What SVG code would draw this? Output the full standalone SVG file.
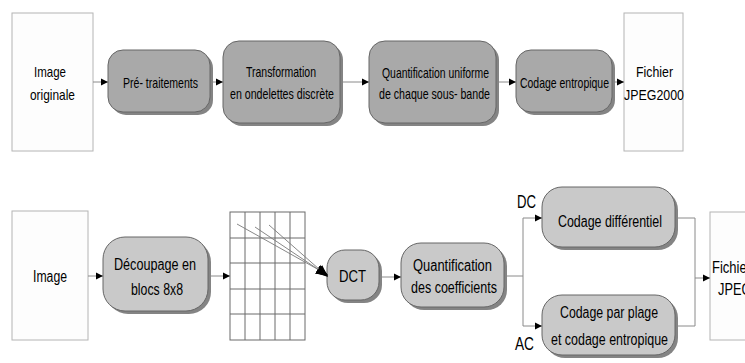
<svg xmlns="http://www.w3.org/2000/svg" width="745" height="363" viewBox="0 0 745 363">
<style>
  .bg{fill:#ffffff}
  .doc{fill:#fdfdfd;stroke:#b4b4b4;stroke-width:1}
  .shadow{fill:#6f6f6f;opacity:0.85}
  .boxA{fill:#a9a9a9;stroke:#666666;stroke-width:1}
  .boxB{fill:#c9c9c9;stroke:#666666;stroke-width:1}
  .grid{fill:#ffffff;stroke:#6a6a6a;stroke-width:1}
  .conn{fill:none;stroke:#8a8a8a;stroke-width:1}
  .conv{fill:none;stroke:#7a7a7a;stroke-width:0.9}
  text{font-family:"Liberation Sans",Arial,sans-serif;fill:#000}
  .t14{font-size:15px}
  .t15{font-size:16px}
  .t18{font-size:19px}
</style>
<defs>
  <marker id="arr" markerUnits="userSpaceOnUse" markerWidth="8" markerHeight="8" refX="7" refY="4" orient="auto">
    <path d="M0,0.5 L7,4 L0,7.5 Z" fill="#000"/>
  </marker>
  <marker id="arr2" markerUnits="userSpaceOnUse" markerWidth="13" markerHeight="11" refX="12" refY="5.5" orient="auto">
    <path d="M0,0.5 L12,5.5 L0,10.5 Z" fill="#000"/>
  </marker>
</defs>
<rect class="bg" x="0" y="0" width="745" height="363"/>

<g id="image-originale">
  <rect class="doc" x="12" y="13" width="81" height="138"/>
  <text class="t14" x="34" y="77" textLength="32" lengthAdjust="spacingAndGlyphs">Image</text>
  <text class="t14" x="30" y="100" textLength="45" lengthAdjust="spacingAndGlyphs">originale</text>
</g>
<g id="pretraitements">
  <rect class="shadow" x="111" y="53" width="102" height="62" rx="15"/>
  <rect class="boxA" x="108" y="50" width="102" height="62" rx="15"/>
  <text class="t14" x="123" y="88" textLength="75" lengthAdjust="spacingAndGlyphs">Pré- traitements</text>
</g>
<g id="transformation">
  <rect class="shadow" x="226" y="44" width="117" height="82" rx="16"/>
  <rect class="boxA" x="223" y="41" width="117" height="82" rx="16"/>
  <text class="t14" x="246" y="77" textLength="70" lengthAdjust="spacingAndGlyphs">Transformation</text>
  <text class="t14" x="230" y="99" textLength="104" lengthAdjust="spacingAndGlyphs">en ondelettes discrète</text>
</g>
<g id="quantification-uniforme">
  <rect class="shadow" x="372" y="44" width="127" height="82" rx="16"/>
  <rect class="boxA" x="369" y="41" width="127" height="82" rx="16"/>
  <text class="t14" x="382" y="78" textLength="107" lengthAdjust="spacingAndGlyphs">Quantification uniforme</text>
  <text class="t14" x="379" y="99" textLength="111" lengthAdjust="spacingAndGlyphs">de chaque sous- bande</text>
</g>
<g id="codage-entropique">
  <rect class="shadow" x="519" y="53" width="96" height="62" rx="15"/>
  <rect class="boxA" x="516" y="50" width="96" height="62" rx="15"/>
  <text class="t14" x="520" y="88" textLength="89" lengthAdjust="spacingAndGlyphs">Codage entropique</text>
</g>
<g id="fichier-jpeg2000">
  <rect class="doc" x="624" y="13" width="59" height="138"/>
  <text class="t14" x="636" y="77" textLength="37" lengthAdjust="spacingAndGlyphs">Fichier</text>
  <text class="t14" x="624" y="100" textLength="60" lengthAdjust="spacingAndGlyphs">JPEG2000</text>
</g>

<g id="image">
  <rect class="doc" x="12" y="211" width="76" height="129"/>
  <text class="t15" x="33" y="282" textLength="34" lengthAdjust="spacingAndGlyphs">Image</text>
</g>
<g id="decoupage">
  <rect class="shadow" x="106" y="240" width="105" height="74" rx="22"/>
  <rect class="boxB" x="103" y="237" width="105" height="74" rx="22"/>
  <text class="t15" x="114" y="270" textLength="82" lengthAdjust="spacingAndGlyphs">Découpage en</text>
  <text class="t15" x="131" y="295" textLength="52" lengthAdjust="spacingAndGlyphs">blocs 8x8</text>
</g>
<g id="grille">
  <rect class="grid" x="230" y="212" width="75" height="128"/>
  <path class="grid" fill="none" d="M245,212V340M260,212V340M275,212V340M290,212V340M230,238H305M230,263H305M230,289H305M230,314H305"/>
</g>
<g id="dct">
  <rect class="shadow" x="330" y="253" width="52" height="50" rx="18"/>
  <rect class="boxB" x="327" y="250" width="52" height="50" rx="18"/>
  <text class="t15" x="339" y="282" textLength="27" lengthAdjust="spacingAndGlyphs">DCT</text>
</g>
<g id="quantification-coefficients">
  <rect class="shadow" x="404" y="246" width="103" height="64" rx="20"/>
  <rect class="boxB" x="401" y="243" width="103" height="64" rx="20"/>
  <text class="t15" x="413" y="271" textLength="79" lengthAdjust="spacingAndGlyphs">Quantification</text>
  <text class="t15" x="411" y="293" textLength="86" lengthAdjust="spacingAndGlyphs">des coefficients</text>
</g>
<g id="codage-differentiel">
  <rect class="shadow" x="545" y="190" width="133" height="60" rx="20"/>
  <rect class="boxB" x="542" y="187" width="133" height="60" rx="20"/>
  <text class="t15" x="558" y="227" textLength="104" lengthAdjust="spacingAndGlyphs">Codage différentiel</text>
</g>
<g id="codage-par-plage">
  <rect class="shadow" x="545" y="298" width="133" height="60" rx="20"/>
  <rect class="boxB" x="542" y="295" width="133" height="60" rx="20"/>
  <text class="t15" x="560" y="318" textLength="98" lengthAdjust="spacingAndGlyphs">Codage par plage</text>
  <text class="t15" x="551" y="345" textLength="117" lengthAdjust="spacingAndGlyphs">et codage entropique</text>
</g>
<g id="label-dc">
  <text class="t18" x="517" y="208" textLength="19" lengthAdjust="spacingAndGlyphs">DC</text>
</g>
<g id="label-ac">
  <text class="t18" x="515" y="350" textLength="19" lengthAdjust="spacingAndGlyphs">AC</text>
</g>
<g id="fichier-jpeg">
  <rect class="doc" x="710" y="212" width="60" height="128"/>
  <text class="t15" x="712" y="273" textLength="39" lengthAdjust="spacingAndGlyphs">Fichier</text>
  <text class="t15" x="718" y="295" textLength="62" lengthAdjust="spacingAndGlyphs">JPEG2000</text>
</g>

<g id="connectors">
  <line class="conn" x1="93" y1="82" x2="108" y2="82" marker-end="url(#arr)"/>
  <line class="conn" x1="213" y1="82" x2="223" y2="82" marker-end="url(#arr)"/>
  <line class="conn" x1="343" y1="82" x2="369" y2="82" marker-end="url(#arr)"/>
  <line class="conn" x1="499" y1="82" x2="516" y2="82" marker-end="url(#arr)"/>
  <line class="conn" x1="615" y1="82" x2="624" y2="82" marker-end="url(#arr)"/>

  <line class="conn" x1="88" y1="276" x2="103" y2="276" marker-end="url(#arr)"/>
  <line class="conn" x1="211" y1="276" x2="230" y2="276" marker-end="url(#arr)"/>
  <line class="conv" x1="237" y1="224" x2="328" y2="275" marker-end="url(#arr2)"/>
  <line class="conv" x1="255" y1="227" x2="328" y2="276" marker-end="url(#arr2)"/>
  <line class="conv" x1="269" y1="225" x2="328" y2="277" marker-end="url(#arr2)"/>
  <line class="conn" x1="382" y1="277" x2="401" y2="277" marker-end="url(#arr)"/>
  <polyline class="conn" points="507,276 523,276"/>
  <polyline class="conn" points="523,218 523,326"/>
  <line class="conn" x1="523" y1="218" x2="542" y2="218" marker-end="url(#arr)"/>
  <line class="conn" x1="523" y1="326" x2="542" y2="326" marker-end="url(#arr)"/>
  <polyline class="conn" points="678,218 695,218 695,326 678,326"/>
  <line class="conn" x1="695" y1="278" x2="710" y2="278" marker-end="url(#arr)"/>
</g>
</svg>
